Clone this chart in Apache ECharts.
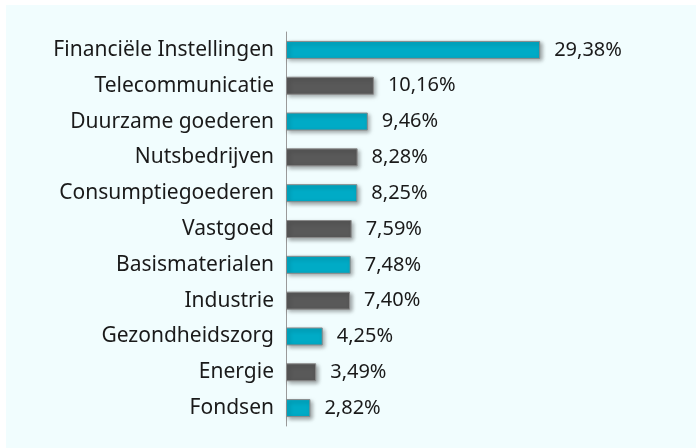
<!DOCTYPE html>
<html>
<head>
<meta charset="utf-8">
<script src="https://cdn.jsdelivr.net/npm/echarts@6/dist/echarts.min.js"></script>
<style>
  html, body { margin: 0; padding: 0; background: #ffffff; }
  #chart {
    position: absolute;
    left: 6px;
    top: 5px;
    width: 690px;
    height: 443px;
    background: #f1fdfe;
  }
</style>
</head>
<body>
<div id="chart"></div>
<script>
// sectoren, van boven naar beneden
const categories = [
  "Financiële Instellingen",
  "Telecommunicatie",
  "Duurzame goederen",
  "Nutsbedrijven",
  "Consumptiegoederen",
  "Vastgoed",
  "Basismaterialen",
  "Industrie",
  "Gezondheidszorg",
  "Energie",
  "Fondsen",
];
const weights = [29.38, 10.16, 9.46, 8.28, 8.25, 7.59, 7.48, 7.4, 4.25, 3.49, 2.82];
const barColors = ["#00abc6", "#595959"];

const chart = echarts.init(document.getElementById("chart"));

chart.setOption({
  animation: false,
  textStyle: {
    fontFamily: "Noto Sans",
  },
  grid: {
    left: 280,
    right: 64,
    top: 27,
    bottom: 22,
  },
  xAxis: {
    type: "value",
    min: 0,
    max: 40,
    show: false,
  },
  yAxis: {
    type: "category",
    data: categories,
    inverse: true,
    axisLine: {
      lineStyle: { color: "#9a9a9a", width: 1 },
    },
    axisTick: {
      length: 6,
      lineStyle: { color: "#9a9a9a" },
    },
    axisLabel: {
      color: "#1a1a1a",
      fontSize: 21,
      margin: 12,
    },
  },
  series: [
    {
      type: "bar",
      barWidth: 18,
      data: weights.map((v, i) => ({
        value: v,
        itemStyle: { color: barColors[i % 2] },
      })),
      itemStyle: {
        borderColor: "#8a8a8a",
        borderWidth: 1,
        shadowColor: "rgba(0,0,0,0.35)",
        shadowBlur: 4,
        shadowOffsetX: 2,
        shadowOffsetY: 2,
      },
      label: {
        show: true,
        position: "right",
        distance: 14,
        color: "#1a1a1a",
        fontSize: 20,
        formatter: (p) => p.value.toFixed(2).replace(".", ",") + "%",
      },
    },
  ],
});
</script>
</body>
</html>
